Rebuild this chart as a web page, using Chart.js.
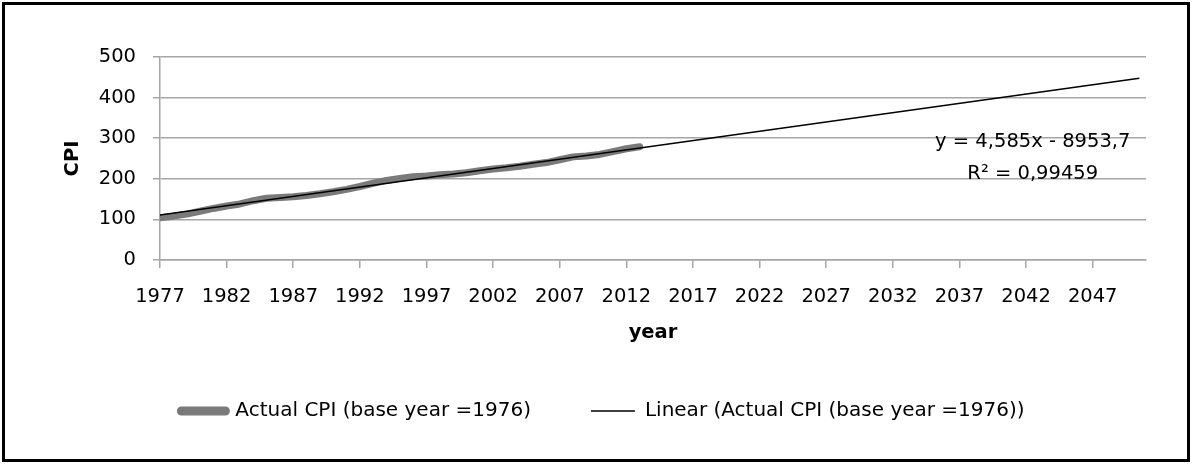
<!DOCTYPE html>
<html>
<head>
<meta charset="utf-8">
<title>CPI trend</title>
<script src="https://cdn.jsdelivr.net/npm/chart.js@4.4.1/dist/chart.umd.min.js"></script>
<style>
  html, body { margin: 0; padding: 0; background: #fff; }
  #wrap { position: relative; width: 1192px; height: 464px; overflow: hidden; }
  #frame { position: absolute; left: 2px; top: 2px; width: 1188px; height: 460px;
           border: 3px solid #000; box-sizing: border-box; pointer-events: none; }
  canvas { position: absolute; left: 0; top: 0; }
</style>
</head>
<body>
<div id="wrap">
  <canvas id="cpiChart" width="1192" height="464"></canvas>
  <div id="frame"></div>
</div>
<script>
// Annual consumer price index, base year 1976
const years = [1977, 1978, 1979, 1980, 1981, 1982, 1983, 1984, 1985, 1986,
               1987, 1988, 1989, 1990, 1991, 1992, 1993, 1994, 1995, 1996,
               1997, 1998, 1999, 2000, 2001, 2002, 2003, 2004, 2005, 2006,
               2007, 2008, 2009, 2010, 2011, 2012, 2013];
const cpi = [104, 108, 113, 120, 127, 133, 138, 146, 152, 154,
             156, 159, 163, 168, 174, 181, 189, 196, 201, 205,
             207, 210, 212, 215, 220, 224, 227, 231, 236, 240,
             247, 254, 256, 260, 267, 274, 279];

// Linear trend fitted to the series, with its forward forecast span
const trendSlope = 4.585;
const trendIntercept = -8953.7;
const trendYears = [1977, 2050.5];
const equationLines = ['y = 4,585x - 8953,7', 'R\u00b2 = 0,99459'];

// Axis ticks and labels
const xTickYears = [1977, 1982, 1987, 1992, 1997, 2002, 2007, 2012, 2017, 2022, 2027, 2032, 2037, 2042, 2047];
const yTickValues = [0, 100, 200, 300, 400, 500];
const xRange = [1977, 2051];
const seriesNames = ['Actual CPI (base year =1976)', 'Linear (Actual CPI (base year =1976))'];
const axisTitles = { x: 'year', y: 'CPI' };

const FONT = '"DejaVu Sans", sans-serif';
const FONT_SIZE = 19.5;
const GRID = '#a6a6a6';

Chart.defaults.font.family = FONT;
Chart.defaults.font.size = FONT_SIZE;
Chart.defaults.color = '#000';

// Writes the trend equation and R² next to the forecast line
const equationLabel = {
  id: 'equationLabel',
  afterDatasetsDraw(chart, args, opts) {
    const { ctx, scales } = chart;
    const cx = scales.x.getPixelForValue(opts.at[0]);
    const cy = scales.y.getPixelForValue(opts.at[1]);
    ctx.save();
    ctx.font = FONT_SIZE + 'px ' + FONT;
    ctx.fillStyle = '#000';
    ctx.textAlign = 'center';
    ctx.textBaseline = 'middle';
    equationLines.forEach((line, i) => ctx.fillText(line, cx, cy + i * opts.lineGap));
    ctx.restore();
  }
};

const actualPoints = years.map((yr, i) => ({ x: yr, y: cpi[i] }));
const trendPoints = trendYears.map(yr => ({ x: yr, y: trendSlope * yr + trendIntercept }));

new Chart(document.getElementById('cpiChart'), {
  type: 'scatter',
  data: {
    datasets: [
      {
        label: seriesNames[0],
        data: actualPoints,
        showLine: true,
        borderColor: '#7a7a7a',
        backgroundColor: '#7a7a7a',
        borderWidth: 7,
        borderCapStyle: 'round',
        borderJoinStyle: 'round',
        pointRadius: 0,
        order: 1
      },
      {
        label: seriesNames[1],
        data: trendPoints,
        showLine: true,
        borderColor: '#000',
        backgroundColor: '#000',
        borderWidth: 1.5,
        pointRadius: 0,
        order: 0
      }
    ]
  },
  plugins: [equationLabel],
  options: {
    responsive: false,
    animation: false,
    devicePixelRatio: 1,
    layout: { padding: { left: 60, right: 46, top: 57, bottom: 33 } },
    scales: {
      x: {
        type: 'linear',
        min: xRange[0],
        max: xRange[1],
        afterBuildTicks: s => { s.ticks = xTickYears.map(v => ({ value: v })); },
        afterFit: s => { s.height = 81; },
        grid: { drawOnChartArea: false, color: GRID, lineWidth: 1.5, tickLength: 8 },
        border: { color: GRID, width: 1.5 },
        ticks: { padding: 17, maxRotation: 0, autoSkip: false, callback: v => String(v) },
        title: { display: true, text: axisTitles.x, font: { weight: 'bold' }, padding: { top: 0, bottom: -3.3 } }
      },
      y: {
        min: yTickValues[0],
        max: yTickValues[yTickValues.length - 1],
        afterBuildTicks: s => { s.ticks = yTickValues.map(v => ({ value: v })); },
        afterFit: s => { s.width = 100; },
        grid: { color: GRID, lineWidth: 1.5, tickLength: 7 },
        border: { color: GRID, width: 1.5 },
        ticks: { padding: 17, callback: v => String(v) },
        title: { display: true, text: axisTitles.y, font: { weight: 'bold' }, padding: { top: 1, bottom: 0 } }
      }
    },
    plugins: {
      tooltip: { enabled: false },
      equationLabel: { at: [2042.5, 290], lineGap: 31.5 },
      legend: {
        position: 'bottom',
        labels: {
          usePointStyle: true,
          pointStyleWidth: 44,
          padding: 60,
          color: '#000',
          font: { size: 20 },
          sort: (a, b) => a.datasetIndex - b.datasetIndex,
          generateLabels: chart => chart.data.datasets.map((ds, i) => ({
            text: ds.label,
            datasetIndex: i,
            pointStyle: 'line',
            strokeStyle: ds.borderColor,
            fillStyle: ds.borderColor,
            lineWidth: i === 0 ? 9 : 1.5,
            lineCap: i === 0 ? 'round' : 'butt',
            fontColor: '#000',
            hidden: false
          }))
        }
      }
    }
  }
});
</script>
</body>
</html>
